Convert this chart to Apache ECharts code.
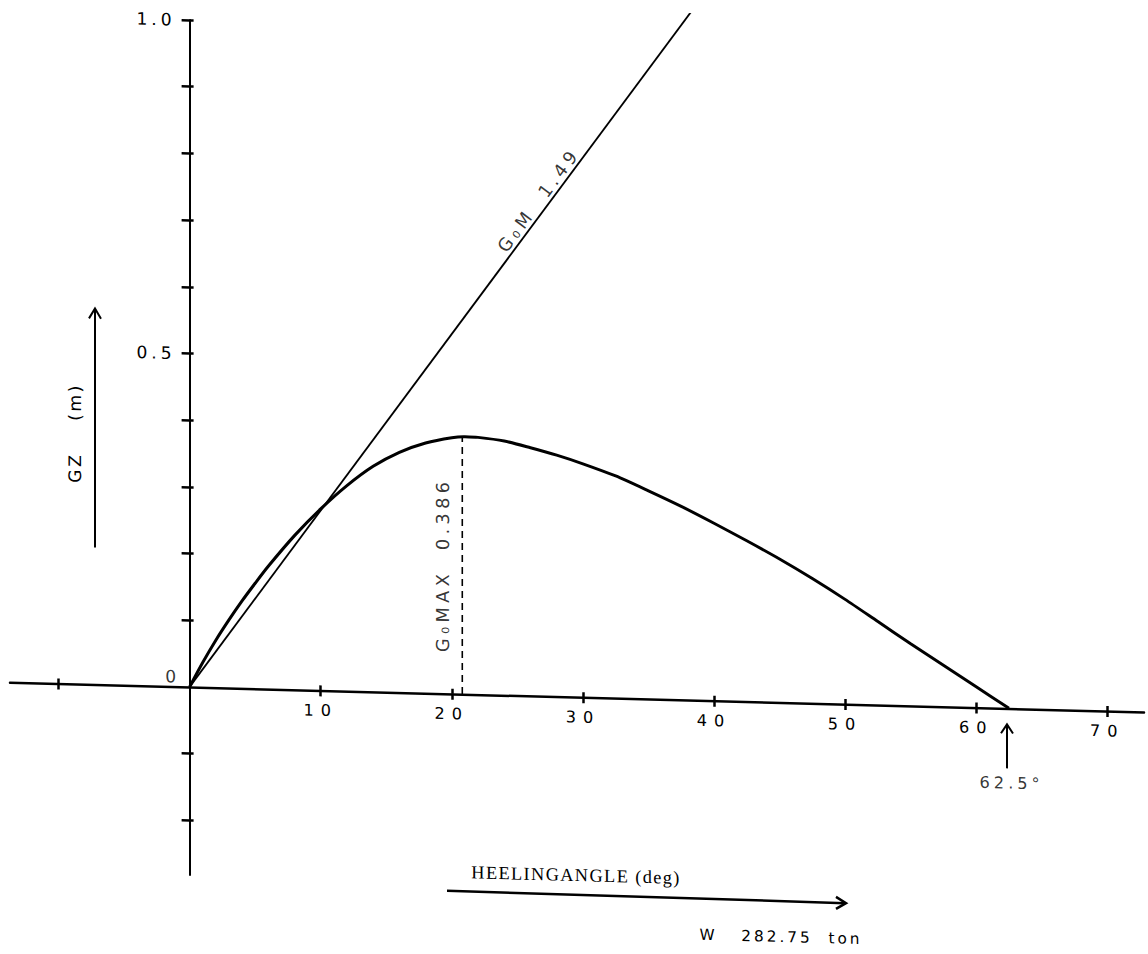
<!DOCTYPE html>
<html>
<head>
<meta charset="utf-8">
<script src="https://cdn.jsdelivr.net/npm/echarts@6/dist/echarts.min.js"></script>
<style>
html,body{margin:0;padding:0;background:#fff;}
#chart{width:1148px;height:954px;transform:skewY(1.5deg);transform-origin:190px 687px;}
#chart text[style*="16.1px"]{letter-spacing:7px;}
#chart text[style*="17.1px"]{letter-spacing:4px;}
#chart text[style*="17.8px"]{letter-spacing:4.3px;}
#chart text[style*="16.2px"]{letter-spacing:4px;}
#chart text[style*="17.2px"]{letter-spacing:2.5px;}
#chart text[style*="18.3px"]{letter-spacing:1.4px;}
#chart text[style*="15.3px"]{letter-spacing:3px;}
</style>
</head>
<body>
<div id="chart"></div>
<script>
// ---- data ----
const heelAngle = [0, 1, 2, 3, 4, 5, 6, 8, 10, 12, 14, 16, 18, 20, 21, 22, 24, 26, 28, 30, 32.5, 35, 37.5, 40, 42.5, 45, 47.5, 50, 52.5, 55, 57.5, 60, 62.5];
const gzValues  = [0, 0.037, 0.071, 0.102, 0.131, 0.158, 0.184, 0.231, 0.272, 0.308, 0.338, 0.360, 0.375, 0.384, 0.386, 0.3855, 0.381, 0.372, 0.362, 0.350, 0.333, 0.312, 0.290, 0.266, 0.241, 0.215, 0.187, 0.157, 0.125, 0.093, 0.062, 0.031, 0];
const gomAngle = [0, 38.7];
const gomGZ = [0, 1.044];
const gzMaxAngle = 20.8;
const gzMaxValue = 0.386;
const vanishingAngle = 62.5;
const xTickValues = [-10, 10, 20, 30, 40, 50, 60, 70];
const xLabelValues = [10, 20, 30, 40, 50, 60, 70];
const yTickValues = [-0.2, -0.1, 0.1, 0.2, 0.3, 0.4, 0.5, 0.6, 0.7, 0.8, 0.9, 1.0];
const yLabelValues = [0.5, 1.0];
const gomText = 'G\u2080M  1.49';
const gzMaxText = 'G\u2080MAX  0.386';
const weightText = 'W   282.75  ton';

// ---- layout ----
const W = 1148, H = 954;
const gridL = 10, gridR = 4, gridT = 20, gridB = 79;
const xMin = -13.7, xMax = 72.8, yMin = -0.282, yMax = 1.0;
const plotW = W - gridL - gridR, plotH = H - gridT - gridB;
const zeroX = plotW * (0 - xMin) / (xMax - xMin);      // from grid left
const zeroY = plotH * (yMax - 0) / (yMax - yMin);      // from grid top

const chart = echarts.init(document.getElementById('chart'), null, {renderer: 'svg', width: W, height: H});
const black = '#000';
const lbl = (extra) => Object.assign({show: true, color: '#000', fontFamily: 'DejaVu Sans', position: 'inside'}, extra);
const xBase = {type: 'value', min: xMin, max: xMax, splitLine: {show: false}};
const yBase = {type: 'value', min: yMin, max: yMax, splitLine: {show: false}};

const option = {
  animation: false,
  backgroundColor: '#fff',
  grid: {left: gridL, right: gridR, top: gridT, bottom: gridB, containLabel: false, outerBoundsMode: 'none'},
  xAxis: [
    Object.assign({}, xBase, {position: 'bottom', offset: -(plotH - zeroY),
     axisLine: {show: true, onZero: false, lineStyle: {color: black, width: 2.5}},
     axisTick: {show: true, customValues: xTickValues, length: 6, lineStyle: {color: black, width: 2.5}},
     axisLabel: {show: true, customValues: xLabelValues, margin: 12, fontSize: 16.1, fontFamily: 'DejaVu Sans', color: '#000',
                 formatter: v => String(v)}}),
    Object.assign({}, xBase, {position: 'top', offset: -zeroY,
     axisLine: {show: false, onZero: false},
     axisTick: {show: true, customValues: xTickValues, length: 5, lineStyle: {color: black, width: 2.5}},
     axisLabel: {show: false}})
  ],
  yAxis: [
    Object.assign({}, yBase, {position: 'left', offset: -zeroX,
     axisLine: {show: true, onZero: false, lineStyle: {color: black, width: 2}},
     axisTick: {show: true, customValues: yTickValues, length: 8, lineStyle: {color: black, width: 2.5}},
     axisLabel: {show: true, customValues: yLabelValues, margin: 14, fontSize: 17.1, fontFamily: 'DejaVu Sans', color: '#000',
                 formatter: v => v.toFixed(1)}}),
    Object.assign({}, yBase, {position: 'right', offset: -(plotW - zeroX),
     axisLine: {show: false, onZero: false},
     axisTick: {show: true, customValues: yTickValues, length: 4, lineStyle: {color: black, width: 2.5}},
     axisLabel: {show: false}})
  ],
  series: [
    {type: 'line', name: 'GZ', smooth: 0.25, showSymbol: false, clip: false,
     data: heelAngle.map((a, i) => [a, gzValues[i]]),
     lineStyle: {color: black, width: 3}},
    {type: 'line', name: 'GoM', showSymbol: false, clip: false,
     data: gomAngle.map((a, i) => [a, gomGZ[i]]),
     lineStyle: {color: black, width: 1.8}},
    {type: 'line', name: 'GZmax', showSymbol: false, clip: false,
     data: [[gzMaxAngle, 0], [gzMaxAngle, gzMaxValue]],
     lineStyle: {color: black, width: 1.6, type: [7, 5]}},
    {type: 'scatter', symbolSize: 0, silent: true, clip: false,
     data: [
       {value: [gzMaxAngle - 1.5, 0.193], label: lbl({formatter: gzMaxText, rotate: 90, fontSize: 17.8})},
       {value: [26.6, 0.744], label: lbl({formatter: gomText, rotate: 54, fontSize: 17.8})},
       {value: [vanishingAngle + 0.2, -0.112], label: lbl({formatter: vanishingAngle + '\u00b0', fontSize: 16.2})},
       {value: [-1.3, 0.015], label: lbl({formatter: '0', fontSize: 17.1})}
     ]}
  ],
  graphic: [
    {type: 'line', shape: {x1: 95, y1: 550, x2: 95, y2: 312}, style: {stroke: black, lineWidth: 2}},
    {type: 'polyline', shape: {points: [[89, 321], [95, 311], [101, 321]]}, style: {stroke: black, lineWidth: 2, fill: null}},
    {type: 'text', x: 75, y: 436, rotation: Math.PI / 2,
     style: {text: 'GZ    (m)', fontSize: 17.2, fontFamily: 'DejaVu Sans', fill: '#000', align: 'center', verticalAlign: 'middle'}},
    {type: 'text', x: 576, y: 865,
     style: {text: 'HEELINGANGLE (deg)', fontSize: 18.3, fontFamily: 'Liberation Serif', fill: '#000', align: 'center', verticalAlign: 'middle'}},
    {type: 'line', shape: {x1: 447, y1: 884, x2: 845, y2: 886}, style: {stroke: black, lineWidth: 2.5}},
    {type: 'polyline', shape: {points: [[836, 880], [846, 886], [836, 892]]}, style: {stroke: black, lineWidth: 2.5, fill: null}},
    {type: 'text', x: 781, y: 921.5,
     style: {text: weightText, fontSize: 15.3, fontFamily: 'DejaVu Sans', fill: '#000', align: 'center', verticalAlign: 'middle'}},
    {type: 'line', shape: {x1: 1007, y1: 747, x2: 1007, y2: 704}, style: {stroke: black, lineWidth: 2}},
    {type: 'polyline', shape: {points: [[1001, 712], [1007, 703], [1013, 712]]}, style: {stroke: black, lineWidth: 2, fill: null}}
  ]
};
chart.setOption(option);
</script>
</body>
</html>
